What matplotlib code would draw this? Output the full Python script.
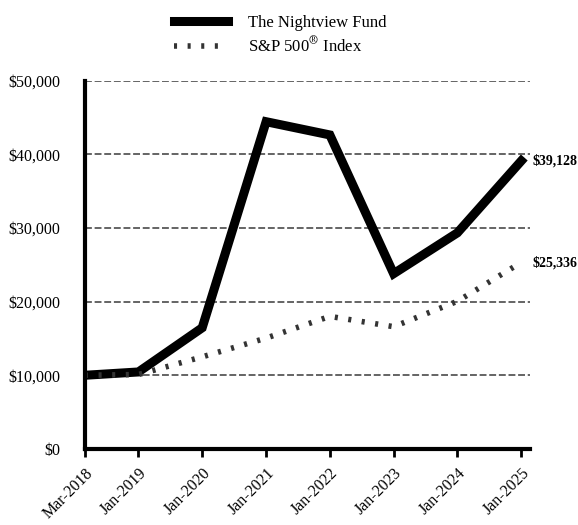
import matplotlib.pyplot as plt
from matplotlib.ticker import FuncFormatter
from datetime import date

plt.rcParams['font.family'] = ['Liberation Serif', 'DejaVu Serif']
plt.rcParams['mathtext.fontset'] = 'stix'

dates = [date(2018, 3, 1), date(2019, 1, 1), date(2020, 1, 1), date(2021, 1, 1),
         date(2022, 1, 1), date(2023, 1, 1), date(2024, 1, 1), date(2025, 1, 1)]
tick_labels = ['Mar-2018', 'Jan-2019', 'Jan-2020', 'Jan-2021',
               'Jan-2022', 'Jan-2023', 'Jan-2024', 'Jan-2025']
fund = [10000, 10450, 16450, 44450, 42650, 23800, 29350, 39128]
sp500 = [10000, 10100, 12500, 15050, 18000, 16600, 20050, 25336]

fig = plt.figure(figsize=(5.78, 5.25), dpi=100)
ax = fig.add_axes([0.147, 0.145, 0.77, 0.701])

ax.plot(dates, fund, color='black', lw=6.5, solid_joinstyle='miter',
        label='The Nightview Fund')
ax.plot(dates, sp500, color='#333333', lw=4, dashes=(0.55, 1.9),
        label='S&P 500$^{\\circledR}$ Index')

ax.set_ylim(0, 50000)
ax.set_xlim(dates[0], date(2025, 2, 20))
ax.set_yticks(range(0, 50001, 10000))
ax.yaxis.set_major_formatter(FuncFormatter(lambda v, p: '${:,.0f}'.format(v)))
ax.set_xticks(dates)
ax.set_xticklabels(tick_labels, rotation=45, ha='right', rotation_mode='anchor')
ax.tick_params(axis='y', length=0, labelsize=11.5, pad=18)
ax.tick_params(axis='x', length=6, width=2, labelsize=11.5, pad=6)

for v in range(10000, 50001, 10000):
    ax.axhline(v, color='#3a3a3a', lw=1.1, ls=(0, (4.5, 1.8)), zorder=0)

for s in ['top', 'right']:
    ax.spines[s].set_visible(False)
for s in ['left', 'bottom']:
    ax.spines[s].set_linewidth(3)

ax.text(1.005, fund[-1], '${:,}'.format(fund[-1]), transform=ax.get_yaxis_transform(),
        fontsize=10, fontweight='bold', va='center', ha='left')
ax.text(1.005, sp500[-1], '${:,}'.format(sp500[-1]), transform=ax.get_yaxis_transform(),
        fontsize=10, fontweight='bold', va='center', ha='left')

fig.legend(loc='upper center', bbox_to_anchor=(0.485, 1.0), frameon=False,
           fontsize=12, handlelength=3.2, handletextpad=1.2, labelspacing=0.3)

fig.savefig('out.png', dpi=100)
